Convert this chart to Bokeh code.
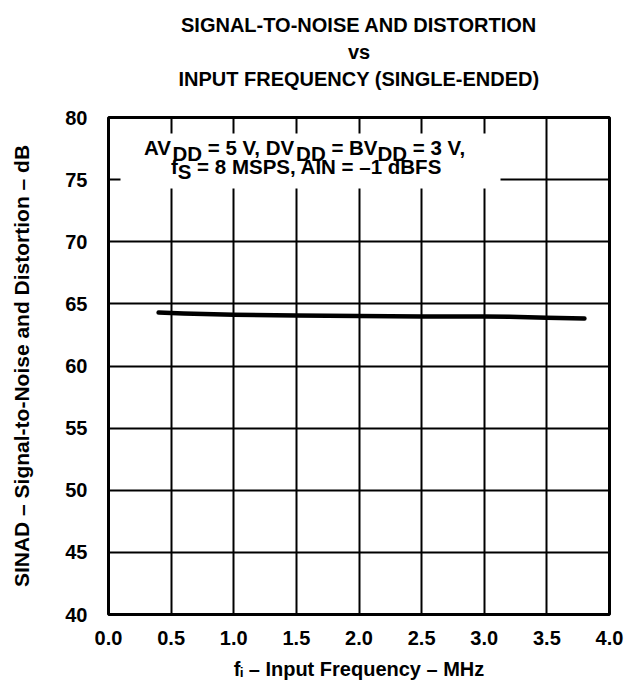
from bokeh.plotting import figure
from bokeh.models import (Range1d, FixedTicker, Label, BoxAnnotation, PrintfTickFormatter,
                          Title, LinearAxis)
from bokeh.embed import file_html
from bokeh.resources import INLINE

# ---------------- data ----------------
freq_mhz = [0.4, 0.6, 1.0, 1.5, 2.0, 2.5, 3.0, 3.2, 3.5, 3.8]
sinad_db = [64.30, 64.22, 64.12, 64.07, 64.02, 63.98, 63.98, 63.97, 63.88, 63.82]

x_ticks = [0.0, 0.5, 1.0, 1.5, 2.0, 2.5, 3.0, 3.5, 4.0]
x_tick_labels = ["0.0", "0.5", "1.0", "1.5", "2.0", "2.5", "3.0", "3.5", "4.0"]
y_ticks = [40, 45, 50, 55, 60, 65, 70, 75, 80]
y_tick_labels = ["40", "45", "50", "55", "60", "65", "70", "75", "80"]

title_lines = ["SIGNAL-TO-NOISE AND DISTORTION", "vs", "INPUT FREQUENCY (SINGLE-ENDED)"]
note_line1 = [("AV", False), ("DD", True), (" = 5 V, DV", False), ("DD", True),
              (" = BV", False), ("DD", True), (" = 3 V,", False)]
note_line2 = [("f", False), ("S", True), (" = 8 MSPS, AIN = \u20131 dBFS", False)]
x_label = "f\u1d62 \u2013 Input Frequency \u2013 MHz"
y_label = "SINAD \u2013 Signal-to-Noise and Distortion \u2013 dB"

# ---------------- layout ----------------
FONT = "Liberation Sans"
FIG_W, FIG_H = 636, 688
FRAME_LEFT, FRAME_RIGHT, FRAME_TOP, FRAME_BOTTOM = 108, 609, 117, 614   # canvas pixels
X0, X1, Y0, Y1 = 0.0, 4.0, 40.0, 80.0


def px(cx):
    return X0 + (cx - FRAME_LEFT) * (X1 - X0) / (FRAME_RIGHT - FRAME_LEFT)


def py(cy):
    return Y0 + (FRAME_BOTTOM - cy) * (Y1 - Y0) / (FRAME_BOTTOM - FRAME_TOP)


p = figure(width=FIG_W, height=FIG_H, output_backend="svg", toolbar_location=None,
           title=None, x_range=Range1d(X0, X1), y_range=Range1d(Y0, Y1),
           min_border_left=FRAME_LEFT, min_border_right=FIG_W - FRAME_RIGHT,
           min_border_top=FRAME_TOP, min_border_bottom=FIG_H - FRAME_BOTTOM,
           background_fill_color="white", border_fill_color="white")

p.outline_line_color = "black"
p.outline_line_width = 3

for ax, ticks, labels, fmt in ((p.xaxis, x_ticks, x_tick_labels, "%.1f"),
                               (p.yaxis, y_ticks, y_tick_labels, "%d")):
    ax.ticker = FixedTicker(ticks=ticks)
    ax.formatter = PrintfTickFormatter(format=fmt)
    ax.major_label_overrides = {t: l for t, l in zip(ticks, labels)}
    ax.axis_line_color = None
    ax.major_tick_line_color = None
    ax.minor_tick_line_color = None
    ax.major_label_text_font = FONT
    ax.major_label_text_font_style = "bold"
    ax.major_label_text_font_size = "20px"
    ax.major_label_text_color = "black"
    ax.axis_label_text_font = FONT
    ax.axis_label_text_font_style = "bold"
    ax.axis_label_text_color = "black"

p.xaxis.major_label_standoff = 10
p.xaxis.axis_label = x_label
p.xaxis.axis_label_text_font_size = "20px"
p.xaxis.axis_label_standoff = 10

p.yaxis.major_label_standoff = 15
p.yaxis.axis_label = y_label
p.yaxis.axis_label_text_font_size = "21px"
p.yaxis.axis_label_standoff = 29

for g in (p.xgrid, p.ygrid):
    g.grid_line_color = "black"
    g.grid_line_width = 2
    g.grid_line_alpha = 1.0

p.line(freq_mhz, sinad_db, line_color="black", line_width=4.5, line_cap="round",
       line_join="round")

# ---------------- title: invisible spacer axis, then three stacked lines ----------------
spacer = LinearAxis(ticker=FixedTicker(ticks=[2.0], minor_ticks=[]), axis_line_color=None,
                    major_tick_line_color=None, minor_tick_line_color=None,
                    major_tick_in=0, major_tick_out=26, minor_tick_in=0, minor_tick_out=0,
                    major_label_standoff=0, major_label_text_font_size="0px",
                    major_label_overrides={2.0: ""})
p.add_layout(spacer, "above")
for line in reversed(title_lines):
    p.add_layout(Title(text=line, align="center", standoff=3,
                       text_font=FONT, text_font_style="bold", text_font_size="20px",
                       text_color="black"), "above")

# ---------------- condition note with subscripts ----------------
WID = {' ': 278, ',': 278, '-': 333, '.': 278, '=': 584, '(': 333, ')': 333, '\u2013': 556,
       'A': 722, 'B': 722, 'C': 722, 'D': 722, 'E': 667, 'F': 611, 'G': 778, 'H': 722,
       'I': 278, 'J': 556, 'K': 722, 'L': 611, 'M': 833, 'N': 722, 'O': 778, 'P': 667,
       'Q': 778, 'R': 722, 'S': 667, 'T': 611, 'U': 722, 'V': 667, 'W': 944, 'X': 667,
       'Y': 667, 'Z': 611, 'a': 556, 'b': 611, 'c': 556, 'd': 611, 'e': 556, 'f': 333,
       'g': 611, 'h': 611, 'i': 278, 'j': 278, 'k': 556, 'l': 278, 'm': 889, 'n': 611,
       'o': 611, 'p': 611, 'q': 611, 'r': 389, 's': 556, 't': 333, 'u': 611, 'v': 556,
       'w': 778, 'x': 556, 'y': 556, 'z': 500}


def text_w(s, size):
    return sum(WID.get(c, 556) for c in s) * size / 1000.0


def add_runs(runs, cx, base, size, sub_shift=6):
    total = sum(text_w(t, size) for t, _ in runs)
    x = cx - total / 2.0
    for t, sub in runs:
        lead = len(t) - len(t.lstrip(" "))
        body = t.strip(" ")
        xs = x + text_w(" " * lead, size)
        p.add_layout(Label(x=px(xs), y=py(base + (sub_shift if sub else 0)), text=body,
                           text_align="left", text_baseline="alphabetic",
                           text_font=FONT, text_font_style="bold",
                           text_font_size=f"{size}px", text_color="black"))
        x += text_w(t, size)


# white box behind the condition note
p.add_layout(BoxAnnotation(left=px(120), right=px(500), top=py(133), bottom=py(188),
                           fill_color="white", fill_alpha=1.0, line_color=None))

add_runs(note_line1, 305, 147, 20.5, sub_shift=6)
add_runs(note_line2, 306, 166, 20.5, sub_shift=5)

open("out.html", "w").write(file_html(p, INLINE))
